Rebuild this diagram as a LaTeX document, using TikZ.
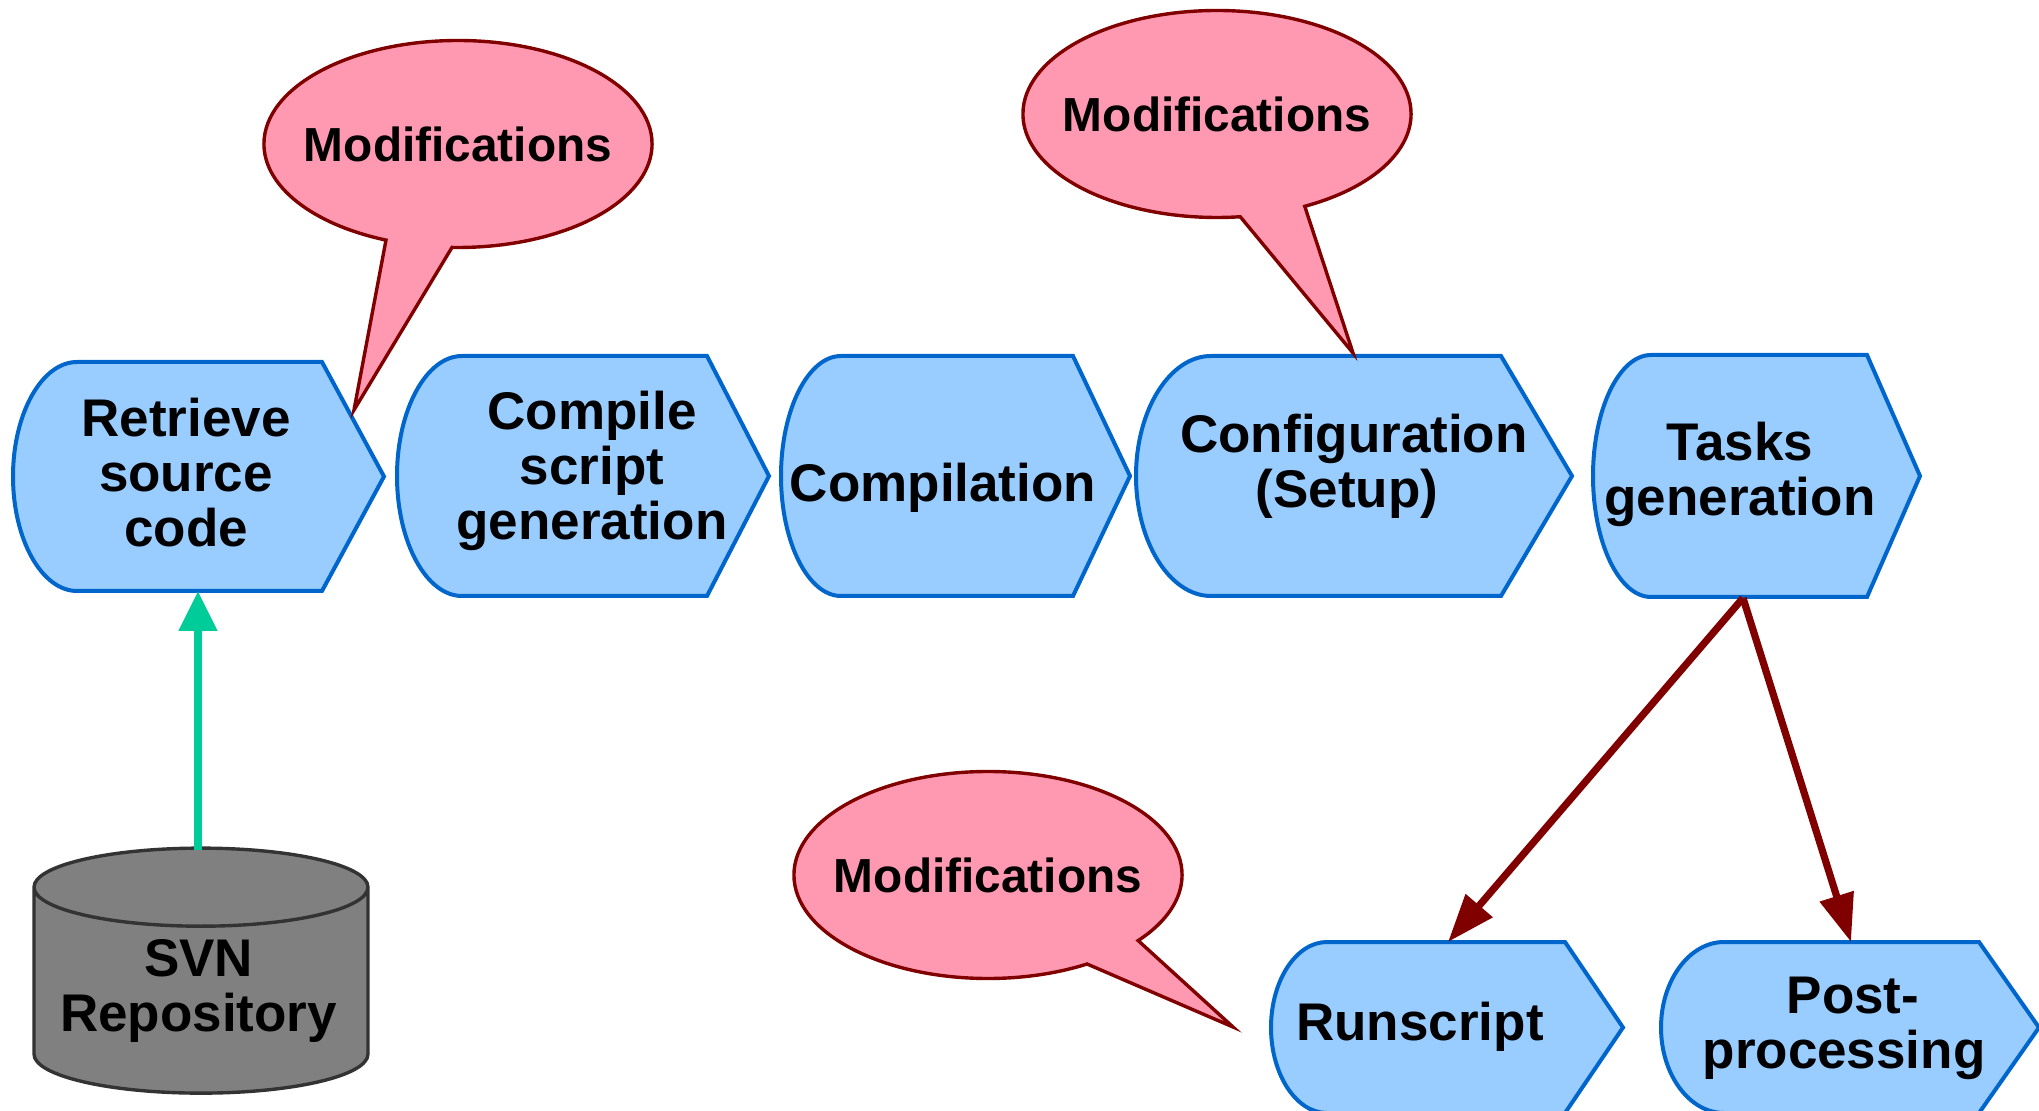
\documentclass[tikz,border=0pt]{standalone}
\usepackage{fontspec}
\setmainfont{Liberation Sans}
\usetikzlibrary{arrows.meta,shapes.geometric,shapes.callouts}
\definecolor{stepblue}{HTML}{99CCFF}
\definecolor{stepline}{HTML}{0066CC}
\definecolor{modpink}{HTML}{FF99B2}
\definecolor{modred}{HTML}{800000}
\definecolor{svngray}{HTML}{808080}
\definecolor{svnline}{HTML}{333333}
\definecolor{flowgreen}{HTML}{00CC99}
\tikzset{
	stepshape/.style={fill=stepblue, draw=stepline, line width=2pt, line join=miter},
	steptext/.style={align=center, inner sep=0pt, text=black, font=\fontsize{26.5}{27.5}\selectfont\bfseries},
	modcallout/.style={ellipse callout, fill=modpink, draw=modred, line width=1.7pt, inner xsep=-8.4pt, inner ysep=0pt, outer sep=0pt,
		minimum width=194pt, minimum height=103.5pt, callout pointer arc=20, text=black,
		font=\fontsize{23.9}{25}\selectfont\bfseries},
	svnstore/.style={cylinder, shape border rotate=90, aspect=0.277, fill=svngray, draw=svnline, line width=1.7pt,
		outer sep=0pt, inner sep=0pt, minimum width=167pt, minimum height=122.5pt, steptext},
	repoflow/.style={draw=flowgreen, line width=4pt, -{Triangle[length=20pt,width=18.5pt]}},
	taskflow/.style={draw=modred, line width=3.6pt, -{Triangle[length=24pt,width=17pt]}}
}
% left x, start of curve, corner, tip, top, bottom
\newcommand{\stepbox}[6]{
	\draw[stepshape] (#2,#5) -- (#3,#5) -- (#4,{(#5+#6)/2}) -- (#3,#6) -- (#2,#6)
		.. controls ({#2-0.55*(#2-#1)},#6) and (#1,{#6-0.225*(#6-#5)}) .. (#1,{(#5+#6)/2})
		.. controls (#1,{#5+0.225*(#6-#5)}) and ({#2-0.55*(#2-#1)},#5) .. cycle;
}
\begin{document}
\begin{tikzpicture}[x=0.5pt, y=-0.5pt]
	\useasboundingbox (0,0) rectangle (2039,1111);

	\stepbox{13}{77}{322}{384}{362}{591}
	\stepbox{397}{462}{707}{769}{356}{596}
	\stepbox{781}{841}{1073}{1130}{356}{596}
	\stepbox{1136}{1211}{1501}{1572}{356}{596}
	\stepbox{1593}{1651}{1867}{1920}{355}{597}
	\stepbox{1271}{1327}{1565}{1623}{942}{1113}
	\stepbox{1661}{1724}{1979}{2039}{942}{1113}

	\node[steptext] (retrieve) at (186,472.5) {Retrieve\\source\\code};
	\node[steptext] (compile) at (592,471) {Compile\\script\\generation};
	\node[steptext] (compilation) at (943,488) {Compilation};
	\node[steptext] (setup) at (1354,466) {Configuration\\(Setup)\hspace*{7pt}};
	\node[steptext] (tasks) at (1740,474) {Tasks\\generation};
	\node[steptext] (runscript) at (1420,1027) {Runscript};
	\node[steptext] (postproc) at (1844,1028) {\hspace*{9pt}Post-\\processing};

	\node[svnstore] (svn) at (201,991) {SVN\hspace*{2.5pt}\\Repository\hspace*{2.5pt}};

	\coordinate (svnout) at (198,850);
	\coordinate (retrievein) at (198,591);
	\coordinate (tasksout) at (1743,598);
	\coordinate (runscriptin) at (1448,942);
	\coordinate (postprocin) at (1851,942);

	\draw[repoflow] (svnout) -- (retrievein);
	\draw[taskflow] (tasksout) -- (runscriptin);
	\draw[taskflow] (tasksout) -- (postprocin);

	\node[modcallout, callout absolute pointer={(354,410)}] (modretrieve) at (458,144) {Modifications};
	\node[modcallout, callout absolute pointer={(1353,353)}] (modsetup) at (1217,114) {Modifications};
	\node[modcallout, callout absolute pointer={(1233,1027)}] (modrun) at (988,875) {Modifications};
\end{tikzpicture}
\end{document}
